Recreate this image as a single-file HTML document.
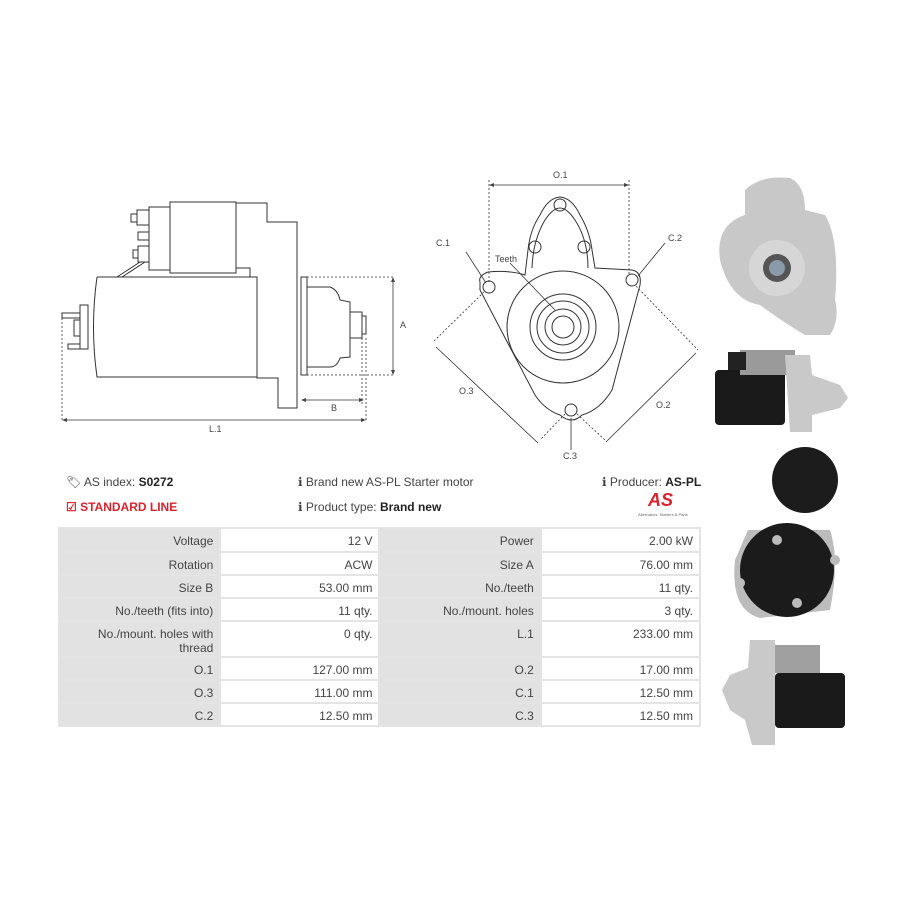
<!DOCTYPE html>
<html><head><meta charset="utf-8"><style>
body{margin:0;background:#fff;width:900px;height:900px;overflow:hidden;position:relative;font-family:"Liberation Sans",sans-serif;}
.t{position:absolute;font-size:12px;color:#444;white-space:nowrap}
b{color:#222}
table{position:absolute;left:58px;top:527px;border-collapse:collapse;width:643px;font-size:12px;color:#444}
td{border:2px solid #e4e4e4;text-align:right;padding:0 6px;vertical-align:top;padding-top:5px;box-sizing:border-box}
td.l{background:#e2e2e2;width:162px}
td.v{background:#fff;width:160px}
svg text{font-family:"Liberation Sans",sans-serif;font-size:9px;fill:#444}
</style></head><body>
<svg width="900" height="900" style="position:absolute;left:0;top:0" fill="none" stroke="#333" stroke-width="1">
<!-- side view -->
<path d="M97 277 L257 277 L257 378 L278 378 L278 408 L297 408 L297 222 L267 222 L267 203 L236 203"/>
<path d="M97 277 Q90 327 97 377 L257 377"/>
<rect x="170" y="202" width="66" height="71"/>
<rect x="149" y="207" width="21" height="63"/>
<rect x="137" y="210" width="12" height="15"/><rect x="131" y="214" width="6" height="8"/>
<rect x="138" y="246" width="11" height="16"/><rect x="133" y="250" width="5" height="8"/>
<rect x="138" y="232" width="11" height="8"/>
<path d="M236 268 L250 268 L250 277 M117 277 L140 262 M122 277 L145 262"/>
<rect x="301" y="277" width="6" height="98"/>
<path d="M307 287 L330 287 Q338 290 340 300 L350 302 L350 357 L340 358 Q337 367 330 367 L307 367"/>
<rect x="350" y="312" width="12" height="26"/><rect x="362" y="316" width="4" height="18"/>
<rect x="80" y="305" width="8" height="44"/><rect x="74" y="320" width="6" height="16"/>
<rect x="62" y="313" width="18" height="5"/><rect x="68" y="344" width="12" height="5"/>
<g stroke-dasharray="2 2" stroke-width="0.8"><path d="M307 277 L395 277 M307 375 L395 375 M366 338 L366 422 M362 338 L362 405 M62 318 L62 422"/></g>
<path d="M393 279 L393 373 M303 400 L362 400 M64 420 L364 420" stroke-width="0.8"/>
<!-- front view -->
<path d="M480 282 Q478 276 488 272 Q510 270 525 275 L528 250 Q530 230 540 215 Q548 198 560 197 Q572 198 580 215 Q590 232 592 250 L595 268 L632 270 Q642 272 640 285 L612 390 Q600 410 582 415 Q572 425 560 415 Q545 410 535 395 L480 290 Z"/>
<circle cx="489" cy="287" r="6"/><circle cx="632" cy="280" r="6"/><circle cx="571" cy="410" r="6"/>
<circle cx="560" cy="205" r="6"/><circle cx="535" cy="247" r="6"/><circle cx="584" cy="247" r="6"/>
<path d="M532 268 Q533 240 545 220 Q553 208 560 208 Q567 208 575 220 Q588 240 588 268"/>
<circle cx="563" cy="327" r="56"/><circle cx="563" cy="327" r="33"/><circle cx="563" cy="327" r="26"/><circle cx="563" cy="327" r="18"/><circle cx="563" cy="327" r="11"/>
<g stroke-dasharray="2 2" stroke-width="0.8"><path d="M489 180 L489 282 M629 180 L629 275 M484 292 L433 342 M636 286 L698 350 M565 414 L540 440 M577 414 L605 440"/></g>
<path d="M491 185 L627 185 M436 347 L538 443 M696 353 L606 442 M571 418 L571 450 M466 252 L486 283 M665 243 L638 276 M510 263 L555 310" stroke-width="0.8"/>
<g fill="#444" stroke="none">
<path d="M393 277 l-2 5 h4z M393 375 l-2 -5 h4z M301 400 l5 -2 v4z M364 400 l-5 -2 v4z M62 420 l5 -2 v4z M366 420 l-5 -2 v4z M489 185 l5 -2 v4z M629 185 l-5 -2 v4z"/>
</g>
<text x="400" y="328" stroke="none">A</text><text x="331" y="411" stroke="none">B</text><text x="209" y="432" stroke="none">L.1</text>
<text x="553" y="178" stroke="none">O.1</text><text x="436" y="246" stroke="none">C.1</text><text x="668" y="241" stroke="none">C.2</text>
<text x="495" y="262" stroke="none">Teeth</text><text x="459" y="394" stroke="none">O.3</text><text x="656" y="408" stroke="none">O.2</text><text x="563" y="459" stroke="none">C.3</text>
<!-- photos -->
<g stroke="none">
<path d="M745 190 Q760 175 790 178 Q805 185 805 210 L825 215 Q840 240 835 300 Q840 320 830 335 L805 335 Q780 320 760 305 Q730 300 720 260 Q715 225 745 215Z" fill="#c8c8c8"/>
<circle cx="777" cy="268" r="28" fill="#d6d6d6"/><circle cx="777" cy="268" r="14" fill="#555"/><circle cx="777" cy="268" r="8" fill="#8a9aa8"/>
<rect x="715" y="370" width="70" height="55" rx="4" fill="#1a1a1a"/><rect x="740" y="350" width="55" height="25" fill="#9a9a9a"/><rect x="728" y="352" width="18" height="18" fill="#222"/>
<path d="M785 355 L810 355 L812 375 L840 385 L848 398 L840 408 L812 415 L812 432 L790 432Z" fill="#c9c9c9"/>
<circle cx="805" cy="480" r="33" fill="#1c1c1c"/>
<path d="M748 530 L830 530 Q840 560 830 610 L760 618 Q730 610 735 560Z" fill="#bcbcbc"/>
<circle cx="787" cy="570" r="47" fill="#1b1b1b"/>
<circle cx="777" cy="540" r="5" fill="#bbb"/><circle cx="835" cy="560" r="5" fill="#bbb"/><circle cx="740" cy="583" r="5" fill="#bbb"/><circle cx="797" cy="603" r="5" fill="#bbb"/>
<rect x="775" y="673" width="70" height="55" rx="4" fill="#1a1a1a"/><rect x="770" y="645" width="50" height="28" fill="#a0a0a0"/>
<path d="M750 640 L775 640 L775 745 L752 745 L745 720 L730 710 L722 690 L730 675 L748 668Z" fill="#c9c9c9"/>
</g>
</svg>
<div class="t" style="left:66px;top:475px">&#x1F3F7;&#xFE0E; AS index: <b>S0272</b></div>
<div class="t" style="left:66px;top:500px;color:#d9232d;font-weight:bold">&#9745; STANDARD LINE</div>
<div class="t" style="left:298px;top:475px">&#x2139; Brand new AS-PL Starter motor</div>
<div class="t" style="left:298px;top:500px">&#x2139; Product type: <b>Brand new</b></div>
<div class="t" style="left:602px;top:475px">&#x2139; Producer: <b>AS-PL</b></div>
<div class="t" style="left:648px;top:490px;color:#d9232d;font-weight:bold;font-style:italic;font-size:18px">AS</div>
<div class="t" style="left:638px;top:512px;font-size:4px;color:#666">Alternators, Starters &amp; Parts</div>
<table>
<tr style="height:24px"><td class="l">Voltage</td><td class="v">12 V</td><td class="l">Power</td><td class="v">2.00 kW</td></tr>
<tr style="height:23px"><td class="l">Rotation</td><td class="v">ACW</td><td class="l">Size A</td><td class="v">76.00 mm</td></tr>
<tr style="height:23px"><td class="l">Size B</td><td class="v">53.00 mm</td><td class="l">No./teeth</td><td class="v">11 qty.</td></tr>
<tr style="height:23px"><td class="l">No./teeth (fits into)</td><td class="v">11 qty.</td><td class="l">No./mount. holes</td><td class="v">3 qty.</td></tr>
<tr style="height:36px"><td class="l" style="line-height:14px">No./mount. holes with<br>thread</td><td class="v">0 qty.</td><td class="l">L.1</td><td class="v">233.00 mm</td></tr>
<tr style="height:23px"><td class="l">O.1</td><td class="v">127.00 mm</td><td class="l">O.2</td><td class="v">17.00 mm</td></tr>
<tr style="height:23px"><td class="l">O.3</td><td class="v">111.00 mm</td><td class="l">C.1</td><td class="v">12.50 mm</td></tr>
<tr style="height:23px"><td class="l">C.2</td><td class="v">12.50 mm</td><td class="l">C.3</td><td class="v">12.50 mm</td></tr>
</table>
</body></html>
